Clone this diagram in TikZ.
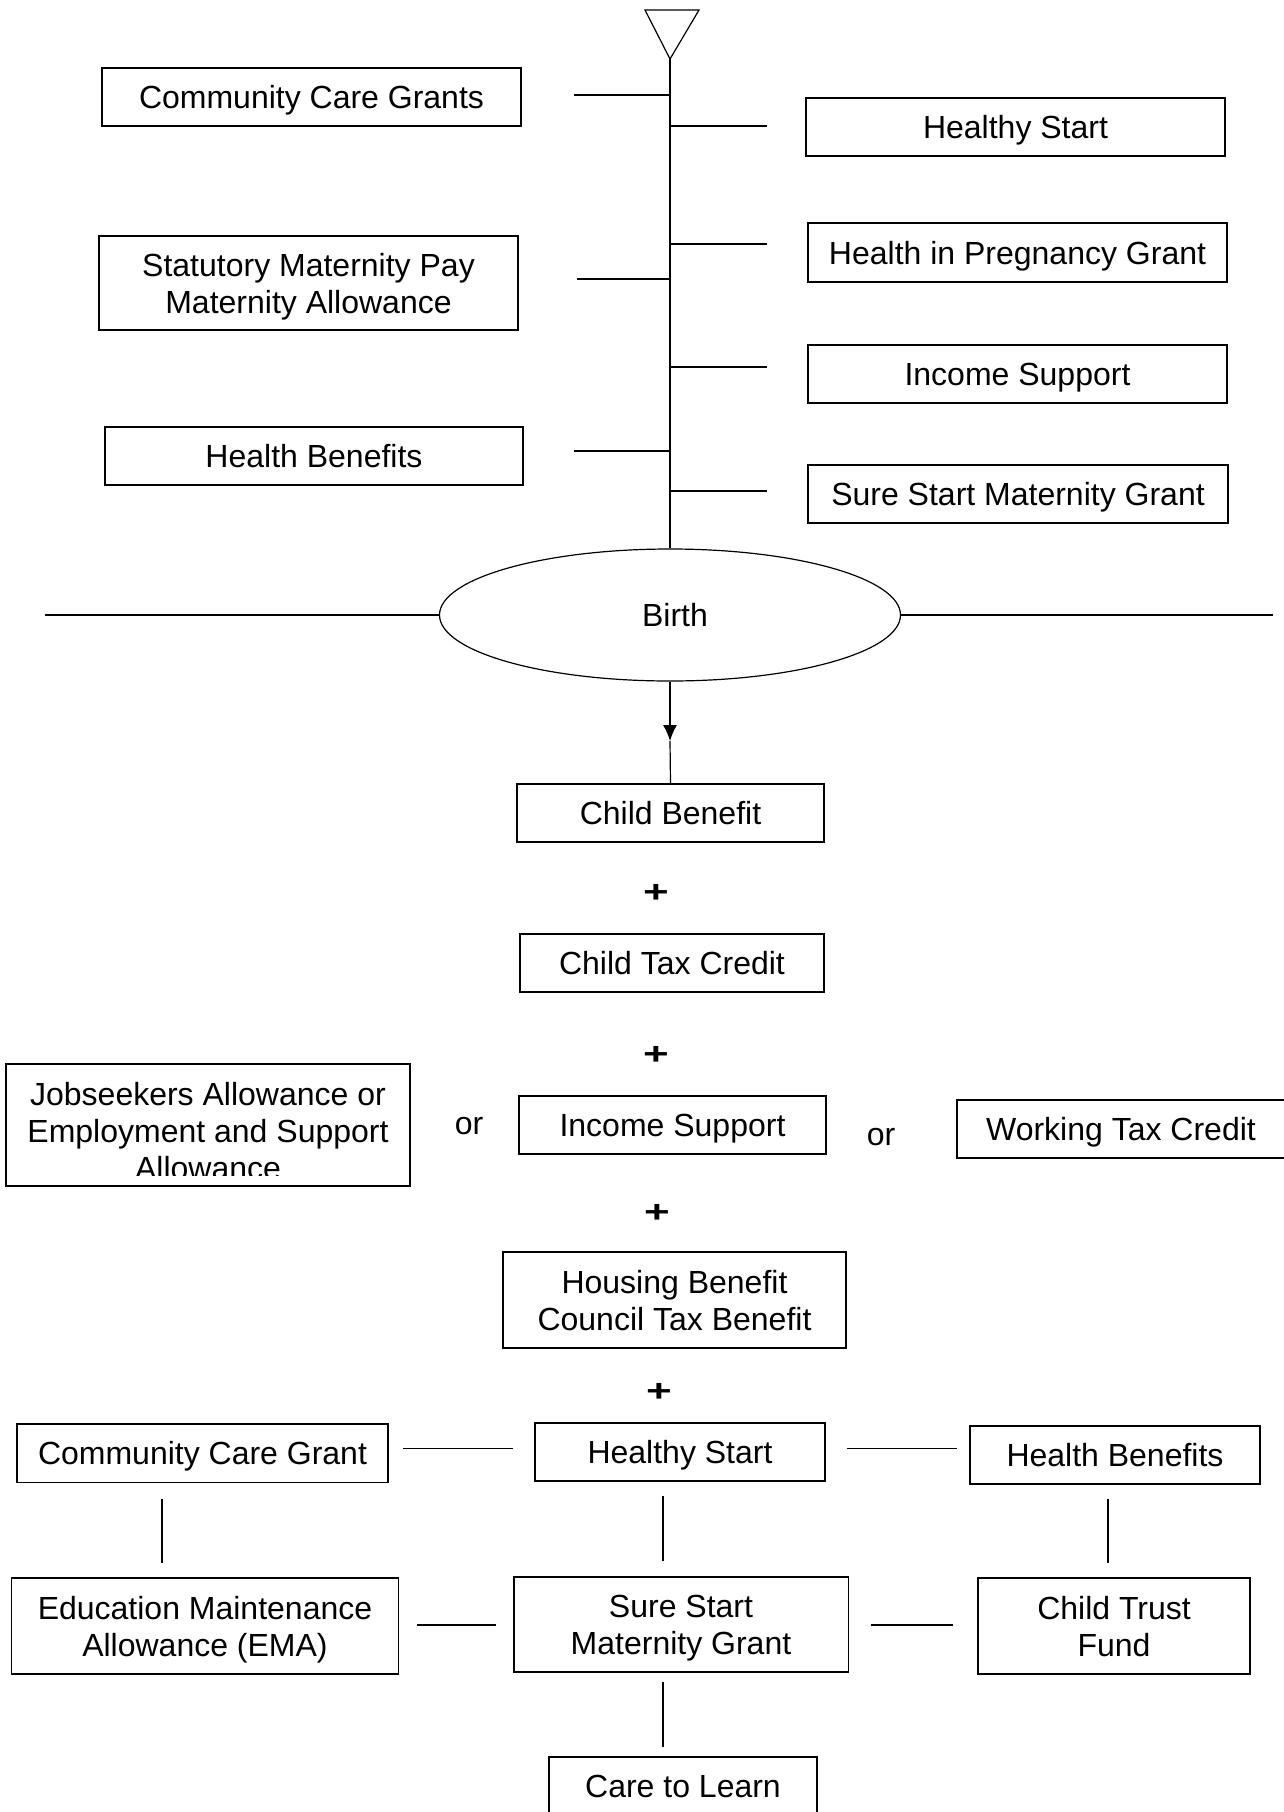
\documentclass[tikz,border=0pt]{standalone}
\usepackage{fontspec}
\usepackage{graphicx}
\setmainfont{Liberation Sans}
\usetikzlibrary{shapes.geometric,arrows.meta}
\newcommand\bx[6]{\node[box,minimum width=#4pt,minimum height=#5pt] (#1) at (#2,#3) {\raisebox{-4.5pt}[\height][\depth]{\begin{tabular}{@{}c@{}}#6\end{tabular}}};}
\begin{document}
\begin{tikzpicture}[x=1pt,y=-1pt,
  box/.style={draw, line width=1.6pt, rectangle, inner sep=0pt, align=center, font=\fontsize{32}{37}\selectfont},
  lbl/.style={inner sep=0pt, align=center, font=\fontsize{32}{37}\selectfont},
  ln/.style={line width=1.7pt},
  thin line/.style={line width=1.2pt},
  plussign/.style={inner sep=0pt, font=\fontsize{44}{44}\selectfont\bfseries}
]
\useasboundingbox[fill=white] (0,0) rectangle (1283,1812);

% ---- top: spine with triangle ----
\coordinate (trA) at (645,10);
\coordinate (trB) at (699,10);
\coordinate (apex) at (670,59);
\draw[thin line, line join=miter] (trA) -- (trB) -- (apex) -- cycle;

\node[draw, thin line, ellipse, inner sep=0pt, minimum width=461pt, minimum height=132pt,
      font=\fontsize{32}{37}\selectfont] (birth) at (670,615) {\hspace*{10pt}Birth};
\draw[thin line] (apex) -- (birth.north);

\coordinate (hl) at (45,615);
\coordinate (hr) at (1273,615);
\draw[thin line] (hl) -- (birth.west);
\draw[thin line] (birth.east) -- (hr);

% ---- top boxes ----
\bx{ccg1}{311.5}{97}{419}{58}{Community Care Grants}
\bx{hs1}{1015.5}{127}{419}{58}{Healthy Start}
\bx{hipg}{1017.5}{252.5}{419}{59}{Health in Pregnancy Grant}
\bx{smp}{308.5}{283}{419}{94}{Statutory Maternity Pay\\Maternity Allowance}
\bx{is1}{1017.5}{374}{419}{58}{Income Support}
\bx{hb1}{314}{456}{418}{58}{Health Benefits}
\bx{ssmg1}{1018}{494}{420}{58}{Sure Start Maternity Grant}

% ---- ticks ----
\coordinate (t1a) at (574,95);  \coordinate (t1b) at (670,95);
\coordinate (t2a) at (670,126); \coordinate (t2b) at (767,126);
\coordinate (t3a) at (670,244); \coordinate (t3b) at (767,244);
\coordinate (t4a) at (577,279); \coordinate (t4b) at (670,279);
\coordinate (t5a) at (670,367); \coordinate (t5b) at (767,367);
\coordinate (t6a) at (574,451); \coordinate (t6b) at (670,451);
\coordinate (t7a) at (670,491); \coordinate (t7b) at (767,491);
\draw[ln] (t1a) -- (t1b);
\draw[ln] (t2a) -- (t2b);
\draw[ln] (t3a) -- (t3b);
\draw[ln] (t4a) -- (t4b);
\draw[ln] (t5a) -- (t5b);
\draw[ln] (t6a) -- (t6b);
\draw[ln] (t7a) -- (t7b);

% ---- middle ----
\bx{cb}{670.5}{813}{307}{58}{Child Benefit}
\coordinate (tip) at (670,741);
\draw[thin line, -{Latex[length=16pt,width=14pt]}] (birth.south) -- (tip);
\draw[thin line] (tip) -- (cb.north);

\node[plussign] (p1) at (656,893) {\scalebox{1}[0.7]{+}};
\bx{ctc}{672}{963}{304}{58}{Child Tax Credit}
\node[plussign] (p2) at (656,1055) {\scalebox{1}[0.7]{+}};

\node[box, minimum width=403.5pt, minimum height=122.5pt] (jsa) at (208,1125) {};
\begin{scope}
  \clip (jsa.north west) rectangle ([yshift=11.5pt]jsa.south east);
  \node[lbl] (jsat) at (208,1131) {Jobseekers Allowance or\\Employment and Support\\Allowance};
\end{scope}
\node[lbl] (or1) at (469,1126.5) {or};
\bx{is2}{672.5}{1125}{307}{58}{Income Support}
\node[lbl] (or2) at (881,1137.5) {or};
\bx{wtc}{1121}{1129}{328}{58.5}{Working Tax Credit}

\node[plussign] (p3) at (657,1213.5) {\scalebox{1}[0.7]{+}};
\bx{hcb}{674.5}{1300}{343}{95.5}{Housing Benefit\\Council Tax Benefit}
\node[plussign] (p4) at (659,1392.5) {\scalebox{1}[0.7]{+}};

% ---- bottom grid ----
\bx{ccg2}{202.5}{1453}{371}{58.6}{Community Care Grant}
\bx{hs2}{680}{1452}{290}{58}{Healthy Start}
\bx{hb2}{1115}{1455}{289.5}{58.4}{Health Benefits}
\bx{ema}{205}{1626}{387}{95.5}{Education Maintenance\\Allowance (EMA)}
\bx{ssmg2}{681}{1624.5}{334.6}{95}{Sure Start\\Maternity Grant}
\bx{ctf}{1114}{1626}{271.6}{96}{Child Trust\\Fund}
\bx{ctl}{683}{1786}{268.5}{58}{Care to Learn}

\draw[ln, shorten <=14pt, shorten >=21pt] ([yshift=4.4pt]ccg2.east) -- ([yshift=3.4pt]hs2.west);
\draw[ln, shorten <=21pt, shorten >=12.5pt] ([yshift=3.4pt]hs2.east) -- ([yshift=6.4pt]hb2.west);
\draw[thin line, shorten <=15.4pt, shorten >=14pt] ([xshift=-40.5pt]ccg2.south) -- ([xshift=-43pt]ema.north);
\draw[thin line, shorten <=14.5pt, shorten >=15.6pt] ([xshift=-17pt]hs2.south) -- ([xshift=-18pt]ssmg2.north);
\draw[thin line, shorten <=14pt, shorten >=14pt] ([xshift=-7pt]hb2.south) -- ([xshift=-6pt]ctf.north);
\draw[ln, shorten <=17.5pt, shorten >=16.5pt] ([yshift=1pt]ema.east) -- ([yshift=-0.5pt]ssmg2.west);
\draw[ln, shorten <=21.4pt, shorten >=24pt] ([yshift=-0.5pt]ssmg2.east) -- ([yshift=1pt]ctf.west);
\draw[thin line, shorten <=9pt, shorten >=9.4pt] ([xshift=-18pt]ssmg2.south) -- ([xshift=-20pt]ctl.north);
\end{tikzpicture}
\end{document}
